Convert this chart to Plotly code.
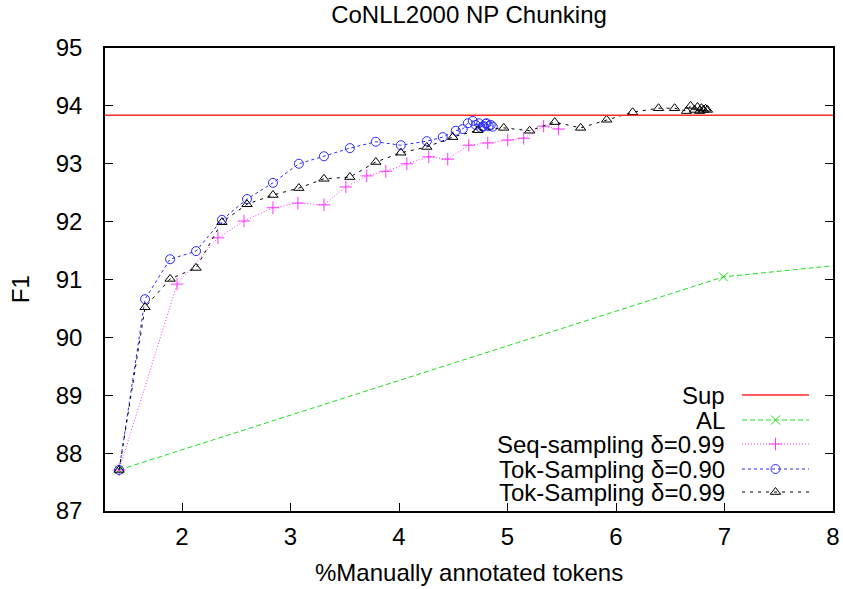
import plotly.graph_objects as go

# ---------------- data ----------------
sup_f1 = 93.84

al_x = [1.42, 6.99, 10.0]
al_y = [87.71, 91.045, 91.62]

seq_x = [1.42, 1.954, 2.331, 2.571, 2.838, 3.068, 3.308, 3.510, 3.703, 3.878,
         4.072, 4.274, 4.449, 4.643, 4.818, 5.002, 5.149, 5.333, 5.471]
seq_y = [87.71, 90.92, 91.72, 92.01, 92.24, 92.32, 92.29, 92.60, 92.79, 92.87,
         93.00, 93.12, 93.08, 93.32, 93.36, 93.41, 93.44, 93.65, 93.60]

tok90_x = [1.42, 1.659, 1.890, 2.129, 2.368, 2.599, 2.838, 3.077, 3.308, 3.547,
           3.786, 4.017, 4.256, 4.403, 4.523, 4.587, 4.634, 4.680, 4.707, 4.735,
           4.753, 4.772, 4.781, 4.799, 4.808, 4.827, 4.845, 4.864]
tok90_y = [87.71, 90.66, 91.35, 91.49, 92.03, 92.39, 92.67, 93.00, 93.13, 93.27,
           93.38, 93.32, 93.39, 93.46, 93.57, 93.60, 93.70, 93.74, 93.67, 93.70,
           93.62, 93.64, 93.65, 93.69, 93.70, 93.65, 93.67, 93.64]

tok99_x = [1.42, 1.659, 1.890, 2.129, 2.368, 2.599, 2.838, 3.077, 3.308, 3.547,
           3.786, 4.017, 4.256, 4.495, 4.726, 4.965, 5.204, 5.435, 5.674, 5.914,
           6.153, 6.392, 6.540, 6.650, 6.687, 6.724, 6.751, 6.770, 6.788, 6.807,
           6.825, 6.843]
tok99_y = [87.71, 90.52, 91.01, 91.20, 91.99, 92.30, 92.46, 92.58, 92.74, 92.77,
           93.03, 93.19, 93.29, 93.46, 93.58, 93.62, 93.57, 93.72, 93.62, 93.76,
           93.89, 93.96, 93.96, 93.91, 94.00, 93.93, 93.98, 93.91, 93.96, 93.93,
           93.95, 93.93]

series_names = ["Sup", "AL", "Seq-sampling \u03b4=0.99",
                "Tok-Sampling \u03b4=0.90", "Tok-Sampling \u03b4=0.99"]

x_ticks = [2, 3, 4, 5, 6, 7, 8]
y_ticks = [87, 88, 89, 90, 91, 92, 93, 94, 95]

# ---------------- styles ----------------
FONT = "Liberation Sans, Arial, Helvetica, sans-serif"
FS = 24
styles = [
    dict(color="#ff2a2a", dash="solid", symbol=None),
    dict(color="#1ee01e", dash="5px,3px", symbol="x-thin-open"),
    dict(color="#ff33ff", dash="1px,2px", symbol="cross-thin-open"),
    dict(color="#2a2aff", dash="3px,3px", symbol="circle-open"),
    dict(color="#000000", dash="3px,5px", symbol="triangle-up-open"),
]

fig = go.Figure()
fig.add_hline(y=sup_f1, line=dict(color=styles[0]["color"], width=1.5))

for (xs, ys), st in zip([(al_x, al_y), (seq_x, seq_y), (tok90_x, tok90_y), (tok99_x, tok99_y)],
                        styles[1:]):
    fig.add_trace(go.Scatter(
        x=xs, y=ys, mode="lines+markers",
        line=dict(color=st["color"], width=1, dash=st["dash"]),
        marker=dict(symbol=st["symbol"], size=9, color=st["color"],
                    line=dict(color=st["color"], width=1)),
        showlegend=False, hoverinfo="skip"))

# ---------------- gnuplot-style key (text right-aligned, sample to its right) ----------------
key_text_x = 0.853
key_sample = (0.875, 0.967)
key_rows = [0.2505, 0.1965, 0.1447, 0.0907, 0.041]
for name, st, ry in zip(series_names, styles, key_rows):
    fig.add_annotation(text=name, xref="paper", yref="paper", x=key_text_x, y=ry,
                       xanchor="right", yanchor="middle", showarrow=False,
                       borderpad=0,
                       font=dict(family=FONT, size=FS, color="black"))
    fig.add_trace(go.Scatter(
        x=list(key_sample), y=[ry, ry], xaxis="x2", yaxis="y2", mode="lines",
        line=dict(color=st["color"], width=1 if st["symbol"] else 1.5, dash=st["dash"]),
        showlegend=False, hoverinfo="skip"))
    if st["symbol"]:
        fig.add_trace(go.Scatter(
            x=[sum(key_sample) / 2], y=[ry], xaxis="x2", yaxis="y2", mode="markers",
            marker=dict(symbol=st["symbol"], size=9, color=st["color"],
                        line=dict(color=st["color"], width=1)),
            showlegend=False, hoverinfo="skip"))

fig.add_annotation(text="%Manually annotated tokens", xref="paper", yref="paper",
                   x=0.5, y=-0.1318, xanchor="center", yanchor="middle", showarrow=False,
                   font=dict(family=FONT, size=FS, color="black"))
fig.add_annotation(text="F1", xref="paper", yref="paper",
                   x=-0.116, y=0.478, xanchor="center", yanchor="middle", showarrow=False,
                   textangle=-90, font=dict(family=FONT, size=FS, color="black"))

FIG_W, FIG_H = 843, 589
fig.update_layout(
    width=FIG_W, height=FIG_H,
    margin=dict(l=105, r=10, t=48, b=78, autoexpand=False),
    paper_bgcolor="white", plot_bgcolor="white",
    font=dict(family=FONT, size=FS, color="black"),
    title=dict(text="CoNLL2000 NP Chunking", x=0.5, xref="paper", xanchor="center",
               y=1 - 15 / FIG_H, yref="container", yanchor="middle",
               font=dict(family=FONT, size=FS, color="black")),
    showlegend=False,
    xaxis=dict(range=[1.29, 8], tickvals=x_ticks, ticktext=[str(v) for v in x_ticks],
               showgrid=False, zeroline=False, showline=True, linecolor="black",
               linewidth=1.5, mirror=True, ticks="inside", ticklen=8, tickwidth=1,
               tickcolor="black", ticklabelstandoff=3, automargin=False),
    yaxis=dict(range=[87, 95], tickvals=y_ticks, ticktext=[str(v) for v in y_ticks],
               showgrid=False, zeroline=False, showline=True, linecolor="black",
               linewidth=1.5, mirror="allticks", ticks="inside", ticklen=8, tickwidth=1,
               tickcolor="black", ticklabelstandoff=16, automargin=False),
    xaxis2=dict(domain=[0, 1], range=[0, 1], visible=False, overlaying="x", anchor="y2",
                automargin=False),
    yaxis2=dict(domain=[0, 1], range=[0, 1], visible=False, overlaying="y", anchor="x2",
                automargin=False),
)

# remove the browser's default 8px body margin so the figure fills the window exactly
fig.write_html("out.html", config={"displayModeBar": False},
               post_script="document.body.style.margin='0';")
